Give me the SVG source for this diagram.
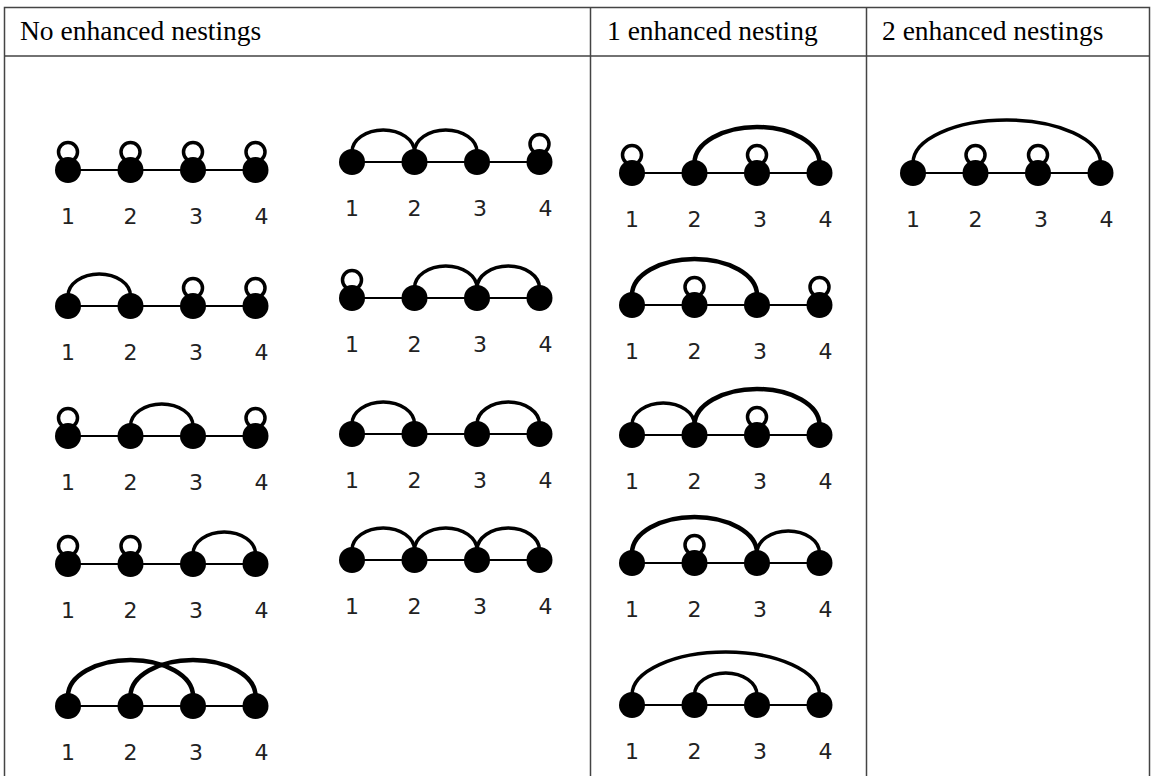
<svg xmlns="http://www.w3.org/2000/svg" width="1151" height="776" viewBox="0 0 1151 776">
<style>
.tb{stroke:#444;stroke-width:1.5;fill:none}
.hd{font-family:"Liberation Serif",serif;font-size:27.5px;fill:#000}
.ln{stroke:#000;stroke-width:2.2}
.nd{fill:#000}
.lp{fill:#fff;stroke:#000;stroke-width:3.5}
.arc{fill:none;stroke:#000;stroke-width:3.5}
.t{stroke-width:4.5}
.lb{font-family:"DejaVu Sans",sans-serif;font-size:22px;text-anchor:middle;fill:#222}
</style>
<rect width="1151" height="776" fill="#fff"/>
<g id="table">
<path class="tb" d="M4.5 776V7.5H1149.5V776M4.5 56H1149.5M590.5 7.5V776M866.5 7.5V776"/>
<text class="hd" x="20" y="40">No enhanced nestings</text>
<text class="hd" x="607" y="40">1 enhanced nesting</text>
<text class="hd" x="882" y="40">2 enhanced nestings</text>
</g>
<g id="connectors">
<path class="arc" d="M68 296A31.25 22 0 0 1 130.5 296"/>
<path class="arc" d="M130.5 426A31.25 22 0 0 1 193 426"/>
<path class="arc" d="M193 554A31.25 22 0 0 1 255.5 554"/>
<path class="arc t" d="M68 696A62.5 36 0 0 1 193 696"/>
<path class="arc t" d="M130.5 696A62.5 36 0 0 1 255.5 696"/>
<path class="arc" d="M352 152A31.25 22 0 0 1 414.5 152"/>
<path class="arc" d="M414.5 152A31.25 22 0 0 1 477 152"/>
<path class="arc" d="M414.5 288A31.25 22 0 0 1 477 288"/>
<path class="arc" d="M477 288A31.25 22 0 0 1 539.5 288"/>
<path class="arc" d="M352 424A31.25 22 0 0 1 414.5 424"/>
<path class="arc" d="M477 424A31.25 22 0 0 1 539.5 424"/>
<path class="arc" d="M352 550A31.25 22 0 0 1 414.5 550"/>
<path class="arc" d="M414.5 550A31.25 22 0 0 1 477 550"/>
<path class="arc" d="M477 550A31.25 22 0 0 1 539.5 550"/>
<path class="arc t" d="M694.5 163A62.5 36 0 0 1 819.5 163"/>
<path class="arc t" d="M632 295A62.5 36 0 0 1 757 295"/>
<path class="arc" d="M632 425A31.25 22 0 0 1 694.5 425"/>
<path class="arc t" d="M694.5 425A62.5 36 0 0 1 819.5 425"/>
<path class="arc t" d="M632 553A62.5 36 0 0 1 757 553"/>
<path class="arc" d="M757 553A31.25 22 0 0 1 819.5 553"/>
<path class="arc" d="M632 695A93.75 43 0 0 1 819.5 695"/>
<path class="arc" d="M694.5 695A31.25 22 0 0 1 757 695"/>
<path class="arc" d="M913 163A93.75 43 0 0 1 1100.5 163"/>
</g>
<g id="g-a1">
<line class="ln" x1="68" y1="170" x2="255.5" y2="170"/>
<circle class="lp" cx="68" cy="152" r="9.5"/><circle class="lp" cx="130.5" cy="152" r="9.5"/><circle class="lp" cx="193" cy="152" r="9.5"/><circle class="lp" cx="255.5" cy="152" r="9.5"/>
<circle class="nd" cx="68" cy="170" r="13"/><circle class="nd" cx="130.5" cy="170" r="13"/><circle class="nd" cx="193" cy="170" r="13"/><circle class="nd" cx="255.5" cy="170" r="13"/>
<text class="lb" x="68" y="224">1</text><text class="lb" x="130.5" y="224">2</text><text class="lb" x="196" y="224">3</text><text class="lb" x="261.5" y="224">4</text>
</g>
<g id="g-a2">
<line class="ln" x1="68" y1="306" x2="255.5" y2="306"/>
<circle class="lp" cx="193" cy="288" r="9.5"/><circle class="lp" cx="255.5" cy="288" r="9.5"/>
<circle class="nd" cx="68" cy="306" r="13"/><circle class="nd" cx="130.5" cy="306" r="13"/><circle class="nd" cx="193" cy="306" r="13"/><circle class="nd" cx="255.5" cy="306" r="13"/>
<text class="lb" x="68" y="360">1</text><text class="lb" x="130.5" y="360">2</text><text class="lb" x="196" y="360">3</text><text class="lb" x="261.5" y="360">4</text>
</g>
<g id="g-a3">
<line class="ln" x1="68" y1="436" x2="255.5" y2="436"/>
<circle class="lp" cx="68" cy="418" r="9.5"/><circle class="lp" cx="255.5" cy="418" r="9.5"/>
<circle class="nd" cx="68" cy="436" r="13"/><circle class="nd" cx="130.5" cy="436" r="13"/><circle class="nd" cx="193" cy="436" r="13"/><circle class="nd" cx="255.5" cy="436" r="13"/>
<text class="lb" x="68" y="490">1</text><text class="lb" x="130.5" y="490">2</text><text class="lb" x="196" y="490">3</text><text class="lb" x="261.5" y="490">4</text>
</g>
<g id="g-a4">
<line class="ln" x1="68" y1="564" x2="255.5" y2="564"/>
<circle class="lp" cx="68" cy="546" r="9.5"/><circle class="lp" cx="130.5" cy="546" r="9.5"/>
<circle class="nd" cx="68" cy="564" r="13"/><circle class="nd" cx="130.5" cy="564" r="13"/><circle class="nd" cx="193" cy="564" r="13"/><circle class="nd" cx="255.5" cy="564" r="13"/>
<text class="lb" x="68" y="618">1</text><text class="lb" x="130.5" y="618">2</text><text class="lb" x="196" y="618">3</text><text class="lb" x="261.5" y="618">4</text>
</g>
<g id="g-a5">
<line class="ln" x1="68" y1="706" x2="255.5" y2="706"/>
<circle class="nd" cx="68" cy="706" r="13"/><circle class="nd" cx="130.5" cy="706" r="13"/><circle class="nd" cx="193" cy="706" r="13"/><circle class="nd" cx="255.5" cy="706" r="13"/>
<text class="lb" x="68" y="760">1</text><text class="lb" x="130.5" y="760">2</text><text class="lb" x="196" y="760">3</text><text class="lb" x="261.5" y="760">4</text>
</g>
<g id="g-b1">
<line class="ln" x1="352" y1="162" x2="539.5" y2="162"/>
<circle class="lp" cx="539.5" cy="144" r="9.5"/>
<circle class="nd" cx="352" cy="162" r="13"/><circle class="nd" cx="414.5" cy="162" r="13"/><circle class="nd" cx="477" cy="162" r="13"/><circle class="nd" cx="539.5" cy="162" r="13"/>
<text class="lb" x="352" y="216">1</text><text class="lb" x="414.5" y="216">2</text><text class="lb" x="480" y="216">3</text><text class="lb" x="545.5" y="216">4</text>
</g>
<g id="g-b2">
<line class="ln" x1="352" y1="298" x2="539.5" y2="298"/>
<circle class="lp" cx="352" cy="280" r="9.5"/>
<circle class="nd" cx="352" cy="298" r="13"/><circle class="nd" cx="414.5" cy="298" r="13"/><circle class="nd" cx="477" cy="298" r="13"/><circle class="nd" cx="539.5" cy="298" r="13"/>
<text class="lb" x="352" y="352">1</text><text class="lb" x="414.5" y="352">2</text><text class="lb" x="480" y="352">3</text><text class="lb" x="545.5" y="352">4</text>
</g>
<g id="g-b3">
<line class="ln" x1="352" y1="434" x2="539.5" y2="434"/>
<circle class="nd" cx="352" cy="434" r="13"/><circle class="nd" cx="414.5" cy="434" r="13"/><circle class="nd" cx="477" cy="434" r="13"/><circle class="nd" cx="539.5" cy="434" r="13"/>
<text class="lb" x="352" y="488">1</text><text class="lb" x="414.5" y="488">2</text><text class="lb" x="480" y="488">3</text><text class="lb" x="545.5" y="488">4</text>
</g>
<g id="g-b4">
<line class="ln" x1="352" y1="560" x2="539.5" y2="560"/>
<circle class="nd" cx="352" cy="560" r="13"/><circle class="nd" cx="414.5" cy="560" r="13"/><circle class="nd" cx="477" cy="560" r="13"/><circle class="nd" cx="539.5" cy="560" r="13"/>
<text class="lb" x="352" y="614">1</text><text class="lb" x="414.5" y="614">2</text><text class="lb" x="480" y="614">3</text><text class="lb" x="545.5" y="614">4</text>
</g>
<g id="g-c1">
<line class="ln" x1="632" y1="173" x2="819.5" y2="173"/>
<circle class="lp" cx="632" cy="155" r="9.5"/><circle class="lp" cx="757" cy="155" r="9.5"/>
<circle class="nd" cx="632" cy="173" r="13"/><circle class="nd" cx="694.5" cy="173" r="13"/><circle class="nd" cx="757" cy="173" r="13"/><circle class="nd" cx="819.5" cy="173" r="13"/>
<text class="lb" x="632" y="227">1</text><text class="lb" x="694.5" y="227">2</text><text class="lb" x="760" y="227">3</text><text class="lb" x="825.5" y="227">4</text>
</g>
<g id="g-c2">
<line class="ln" x1="632" y1="305" x2="819.5" y2="305"/>
<circle class="lp" cx="694.5" cy="287" r="9.5"/><circle class="lp" cx="819.5" cy="287" r="9.5"/>
<circle class="nd" cx="632" cy="305" r="13"/><circle class="nd" cx="694.5" cy="305" r="13"/><circle class="nd" cx="757" cy="305" r="13"/><circle class="nd" cx="819.5" cy="305" r="13"/>
<text class="lb" x="632" y="359">1</text><text class="lb" x="694.5" y="359">2</text><text class="lb" x="760" y="359">3</text><text class="lb" x="825.5" y="359">4</text>
</g>
<g id="g-c3">
<line class="ln" x1="632" y1="435" x2="819.5" y2="435"/>
<circle class="lp" cx="757" cy="417" r="9.5"/>
<circle class="nd" cx="632" cy="435" r="13"/><circle class="nd" cx="694.5" cy="435" r="13"/><circle class="nd" cx="757" cy="435" r="13"/><circle class="nd" cx="819.5" cy="435" r="13"/>
<text class="lb" x="632" y="489">1</text><text class="lb" x="694.5" y="489">2</text><text class="lb" x="760" y="489">3</text><text class="lb" x="825.5" y="489">4</text>
</g>
<g id="g-c4">
<line class="ln" x1="632" y1="563" x2="819.5" y2="563"/>
<circle class="lp" cx="694.5" cy="545" r="9.5"/>
<circle class="nd" cx="632" cy="563" r="13"/><circle class="nd" cx="694.5" cy="563" r="13"/><circle class="nd" cx="757" cy="563" r="13"/><circle class="nd" cx="819.5" cy="563" r="13"/>
<text class="lb" x="632" y="617">1</text><text class="lb" x="694.5" y="617">2</text><text class="lb" x="760" y="617">3</text><text class="lb" x="825.5" y="617">4</text>
</g>
<g id="g-c5">
<line class="ln" x1="632" y1="705" x2="819.5" y2="705"/>
<circle class="nd" cx="632" cy="705" r="13"/><circle class="nd" cx="694.5" cy="705" r="13"/><circle class="nd" cx="757" cy="705" r="13"/><circle class="nd" cx="819.5" cy="705" r="13"/>
<text class="lb" x="632" y="759">1</text><text class="lb" x="694.5" y="759">2</text><text class="lb" x="760" y="759">3</text><text class="lb" x="825.5" y="759">4</text>
</g>
<g id="g-d1">
<line class="ln" x1="913" y1="173" x2="1100.5" y2="173"/>
<circle class="lp" cx="975.5" cy="155" r="9.5"/><circle class="lp" cx="1038" cy="155" r="9.5"/>
<circle class="nd" cx="913" cy="173" r="13"/><circle class="nd" cx="975.5" cy="173" r="13"/><circle class="nd" cx="1038" cy="173" r="13"/><circle class="nd" cx="1100.5" cy="173" r="13"/>
<text class="lb" x="913" y="227">1</text><text class="lb" x="975.5" y="227">2</text><text class="lb" x="1041" y="227">3</text><text class="lb" x="1106.5" y="227">4</text>
</g>
</svg>
